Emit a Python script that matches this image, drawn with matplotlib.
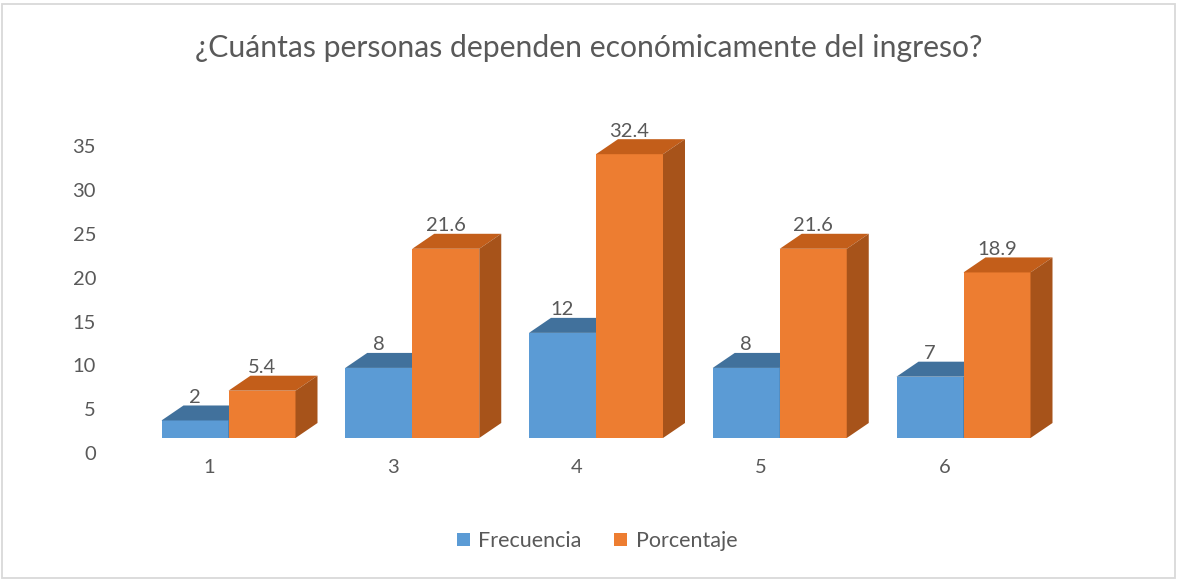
import matplotlib
matplotlib.use("Agg")
import matplotlib.pyplot as plt
from matplotlib.patches import Polygon, Patch, Rectangle
from matplotlib.transforms import ScaledTranslation

categories = ["1", "3", "4", "5", "6"]
frecuencia = [2, 8, 12, 8, 7]
porcentaje = [5.4, 21.6, 32.4, 21.6, 18.9]
series_names = ["Frecuencia", "Porcentaje"]
yticks = [0, 5, 10, 15, 20, 25, 30, 35]
title = "¿Cuántas personas dependen económicamente del ingreso?"

FONT = ["Lato", "DejaVu Sans"]
TXT = "#595959"
W, H, DPI = 1178, 580, 100
PX_CAT = 183.75      # pixels per category
PX_UNIT = 8.76       # pixels per value unit
X0_PX = 228.5        # pixel of first category centre
Y0_PX = 438          # pixel (from top) of value 0 on front plane
AX_L, AX_R, AX_T = 100, 1110, 110
FS = 14.5

fig = plt.figure(figsize=(W / DPI, H / DPI), dpi=DPI)
ax = fig.add_axes([AX_L / W, 1 - Y0_PX / H, (AX_R - AX_L) / W, (Y0_PX - AX_T) / H])
ax.set_xlim((AX_L - X0_PX) / PX_CAT, (AX_R - X0_PX) / PX_CAT)
ax.set_ylim(0, (Y0_PX - AX_T) / PX_UNIT)
for s in ax.spines.values():
    s.set_visible(False)

bw = 67 / PX_CAT
DX = 22 / PX_CAT
DY = 15 / PX_UNIT

styles = [
    dict(front="#5B9BD5", top="#41719C", side="#3A6A95"),
    dict(front="#ED7D31", top="#C35E1A", side="#A7531A"),
]

def draw_bar(x0, v, st, z):
    x1 = x0 + bw
    ax.bar(x0, v, width=bw, align="edge", color=st["front"], zorder=z, linewidth=0)
    ax.add_patch(Polygon([(x0, v), (x0 + DX, v + DY), (x1 + DX, v + DY), (x1, v)],
                         closed=True, facecolor=st["top"], edgecolor="none", zorder=z))
    ax.add_patch(Polygon([(x1, 0), (x1 + DX, DY), (x1 + DX, v + DY), (x1, v)],
                         closed=True, facecolor=st["side"], edgecolor="none", zorder=z))

xs = list(range(len(categories)))
for i, x in enumerate(xs):
    for j, vals in enumerate([frecuencia, porcentaje]):
        x0 = x - bw if j == 0 else x
        draw_bar(x0, vals[i], styles[j], z=2 + i * 2 + j)
        ax.annotate("{:g}".format(vals[i]), (x0 + bw / 2, vals[i]), xytext=(0, 23 * 72 / DPI),
                    textcoords="offset points", ha="center", va="center",
                    fontsize=FS, color=TXT, family=FONT, zorder=20)

ax.set_xticks(xs)
ax.set_xticklabels(categories)
ax.set_yticks(yticks)
ax.set_yticklabels([str(t) for t in yticks])
ax.tick_params(axis="both", length=0, labelsize=FS, labelcolor=TXT)
ax.tick_params(axis="y", pad=4 * 72 / DPI)
ax.tick_params(axis="x", pad=21 * 72 / DPI)
for lbl in ax.get_yticklabels():
    lbl.set_family(FONT)
    lbl.set_transform(lbl.get_transform() + ScaledTranslation(0, -15 / DPI, fig.dpi_scale_trans))
for lbl in ax.get_xticklabels():
    lbl.set_family(FONT)
    lbl.set_transform(lbl.get_transform() + ScaledTranslation(-19 / DPI, 0, fig.dpi_scale_trans))

fig.text(0.5, 1 - 48 / H, title, ha="center", va="center", fontsize=21.7, color=TXT, family=FONT)

handles = [Patch(facecolor=styles[0]["front"]), Patch(facecolor=styles[1]["front"])]
fig.legend(handles, series_names, loc="center", bbox_to_anchor=(597 / W, 1 - 541 / H),
           ncol=2, frameon=False, prop={"family": FONT, "size": 15.5}, labelcolor=TXT,
           handlelength=0.6, handleheight=0.6, handletextpad=0.4, columnspacing=1.5)

fig.patches.append(Rectangle((2 / W, 2 / H), (W - 5) / W, (H - 6) / H, transform=fig.transFigure,
                             fill=False, edgecolor="#D9D9D9", linewidth=1.3))

fig.savefig("out.png", dpi=DPI)
